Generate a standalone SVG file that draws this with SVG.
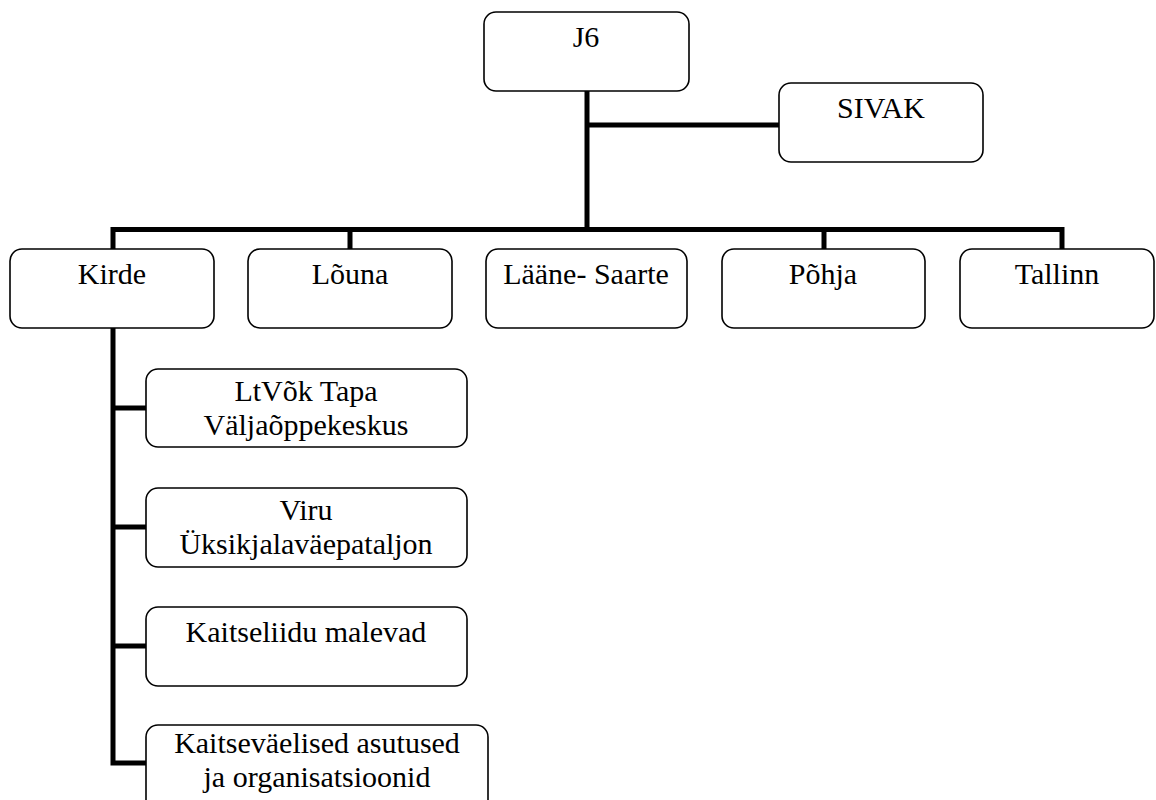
<svg xmlns="http://www.w3.org/2000/svg" width="1156" height="800" viewBox="0 0 1156 800">
<style>
.box{fill:#fff;stroke:#000;stroke-width:1.6}
.t{font-family:"Liberation Serif","Times New Roman",serif;font-size:30px;fill:#000;text-anchor:middle}
.c{stroke:#000;stroke-width:5;fill:none;stroke-linecap:square}
</style>
<rect width="1156" height="800" fill="#fff"/>
<g id="connectors">
<path class="c" d="M587 91V229.5M587 125H779M113 229.5H1062M113 229.5V249M350 229.5V249M824 229.5V249M1062 229.5V249"/>
<path class="c" d="M113 328V763M113 408H146M113 527H146M113 646H146M113 763H146"/>
</g>
<g id="J6"><rect class="box" x="484" y="12" width="205" height="79" rx="12"/><text class="t" x="586" y="47">J6</text></g>
<g id="SIVAK"><rect class="box" x="779" y="83" width="204" height="79" rx="12"/><text class="t" x="881" y="118">SIVAK</text></g>
<g id="Kirde"><rect class="box" x="10" y="249" width="204" height="79" rx="12"/><text class="t" x="112" y="284">Kirde</text></g>
<g id="Louna"><rect class="box" x="248" y="249" width="204" height="79" rx="12"/><text class="t" x="350" y="284">Lõuna</text></g>
<g id="LaaneSaarte"><rect class="box" x="486" y="249" width="201" height="79" rx="12"/><text class="t" x="586" y="284">Lääne- Saarte</text></g>
<g id="Pohja"><rect class="box" x="722" y="249" width="203" height="79" rx="12"/><text class="t" x="823" y="284">Põhja</text></g>
<g id="Tallinn"><rect class="box" x="960" y="249" width="194" height="79" rx="12"/><text class="t" x="1057" y="284">Tallinn</text></g>
<g id="LtVok"><rect class="box" x="146" y="369" width="321" height="78" rx="12"/><text class="t" x="306" y="401">LtVõk Tapa</text><text class="t" x="306" y="435">Väljaõppekeskus</text></g>
<g id="Viru"><rect class="box" x="146" y="488" width="321" height="79" rx="12"/><text class="t" x="306" y="520">Viru</text><text class="t" x="306" y="554">Üksikjalaväepataljon</text></g>
<g id="Kaitseliit"><rect class="box" x="146" y="607" width="321" height="79" rx="12"/><text class="t" x="306" y="642">Kaitseliidu malevad</text></g>
<g id="Kaitsevaelised"><rect class="box" x="146" y="725" width="342" height="90" rx="12"/><text class="t" x="317" y="753">Kaitseväelised asutused</text><text class="t" x="317" y="787">ja organisatsioonid</text></g>
</svg>
